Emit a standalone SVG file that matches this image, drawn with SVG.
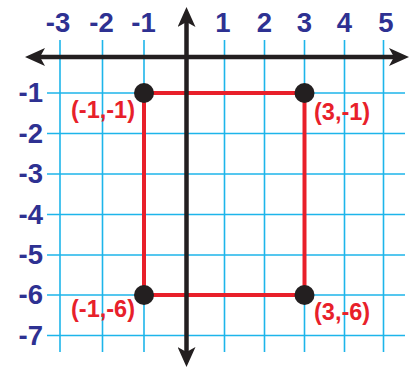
<svg xmlns="http://www.w3.org/2000/svg" width="410" height="368" viewBox="0 0 410 368">
<style>
.grid line{stroke:#1db5ea;stroke-width:1.6}
.axis{stroke:#231f20;stroke-width:4.5;fill:none}
.num{font-family:"Liberation Sans",Arial,sans-serif;font-weight:bold;font-size:27.5px;fill:#2e3192}
.pt{font-family:"Liberation Sans",Arial,sans-serif;font-weight:bold;font-size:23.5px;fill:#e8202a}
.dot{fill:#231f20}
</style>
<defs>
<marker id="arr" markerUnits="userSpaceOnUse" markerWidth="20" markerHeight="18" viewBox="0 0 20 18" refX="5" refY="9" orient="auto-start-reverse">
<path d="M0,0 L20,9 L0,18 L5,9 Z" fill="#231f20"/>
</marker>
</defs>
<rect width="410" height="368" fill="#ffffff"/>
<g id="grid" class="grid">
<line x1="60" y1="40" x2="60" y2="352"/>
<line x1="102.5" y1="40" x2="102.5" y2="352"/>
<line x1="144" y1="40" x2="144" y2="352"/>
<line x1="224.5" y1="40" x2="224.5" y2="352"/>
<line x1="264.5" y1="40" x2="264.5" y2="352"/>
<line x1="304.5" y1="40" x2="304.5" y2="352"/>
<line x1="344.5" y1="40" x2="344.5" y2="352"/>
<line x1="383.5" y1="40" x2="383.5" y2="352"/>
<line x1="47" y1="93" x2="405" y2="93"/>
<line x1="47" y1="133.5" x2="405" y2="133.5"/>
<line x1="47" y1="174" x2="405" y2="174"/>
<line x1="47" y1="214.5" x2="405" y2="214.5"/>
<line x1="47" y1="255" x2="405" y2="255"/>
<line x1="47" y1="295" x2="405" y2="295"/>
<line x1="47" y1="335.5" x2="405" y2="335.5"/>
</g>
<g id="x-labels" class="num" text-anchor="middle">
<text x="58" y="32">-3</text>
<text x="101.5" y="32">-2</text>
<text x="143.5" y="32">-1</text>
<text x="223" y="32">1</text>
<text x="264.5" y="32">2</text>
<text x="304.5" y="32">3</text>
<text x="344.5" y="32">4</text>
<text x="386" y="32">5</text>
</g>
<g id="y-labels" class="num" text-anchor="end">
<text x="43" y="102">-1</text>
<text x="43" y="142.5">-2</text>
<text x="43" y="183">-3</text>
<text x="43" y="223.5">-4</text>
<text x="43" y="264">-5</text>
<text x="43" y="304">-6</text>
<text x="43" y="344.5">-7</text>
</g>
<g id="rectangle">
<rect x="144" y="93" width="160.5" height="202" fill="none" stroke="#e8202a" stroke-width="4"/>
</g>
<g id="axes">
<line class="axis" x1="40" y1="57" x2="394" y2="57" marker-start="url(#arr)" marker-end="url(#arr)"/>
<line class="axis" x1="186.5" y1="22" x2="186.5" y2="352" marker-start="url(#arr)" marker-end="url(#arr)"/>
</g>
<g id="point-a">
<circle class="dot" cx="144" cy="93" r="10"/>
<text class="pt" x="135" y="118" text-anchor="end">(-1,-1)</text>
</g>
<g id="point-b">
<circle class="dot" cx="304.5" cy="93" r="10"/>
<text class="pt" x="314" y="120">(3,-1)</text>
</g>
<g id="point-c">
<circle class="dot" cx="144" cy="295" r="10"/>
<text class="pt" x="135" y="317" text-anchor="end">(-1,-6)</text>
</g>
<g id="point-d">
<circle class="dot" cx="304.5" cy="295" r="10"/>
<text class="pt" x="314" y="320">(3,-6)</text>
</g>
</svg>
